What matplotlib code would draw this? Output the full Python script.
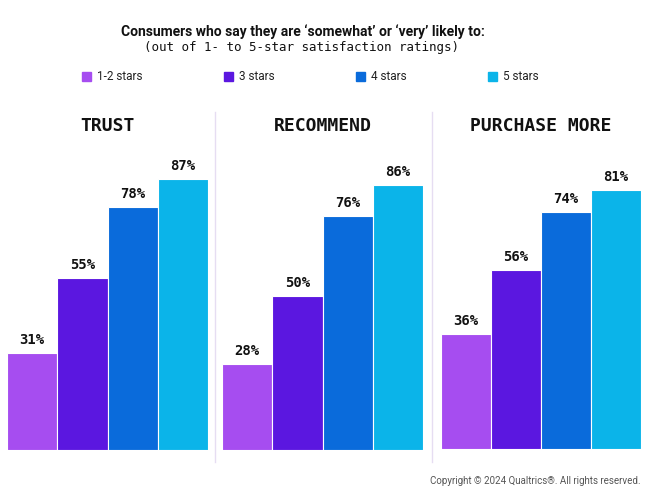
import matplotlib.pyplot as plt
from matplotlib.lines import Line2D
from matplotlib.patches import Rectangle

W, H = 650, 488

groups = ["TRUST", "RECOMMEND", "PURCHASE MORE"]
series = ["1-2 stars", "3 stars", "4 stars", "5 stars"]
values = [
    [31, 55, 78, 87],
    [28, 50, 76, 86],
    [36, 56, 74, 81],
]
colors = ["#A64DF0", "#5B17E0", "#0A6BDB", "#0BB4E9"]

# panel layout in pixels: x0, x1, baseline, y of 100%
panel_px = [(7, 208, 450, 138), (222, 423, 450, 142), (441, 641, 448.5, 129.5)]

fig = plt.figure(figsize=(W / 100, H / 100), dpi=100)


def fx(px):
    return px / W


def fy(py):
    return 1 - py / H


for (x0, x1, base, top), name, vals in zip(panel_px, groups, values):
    ax = fig.add_axes([fx(x0), fy(base), fx(x1 - x0), (base - top) / H])
    ax.bar(range(4), vals, width=1.0, color=colors, edgecolor="white", linewidth=0.8)
    for i, v in enumerate(vals):
        ax.annotate(f"{v}%", (i, v), xytext=(0, 13), textcoords="offset pixels",
                    ha="center", va="center", fontsize=10, fontweight="bold",
                    family="DejaVu Sans Mono", color="#111111")
    ax.set_xlim(-0.5, 3.5)
    ax.set_ylim(0, 100)
    ax.axis("off")
    fig.text(fx((x0 + x1) / 2), fy(126), name, ha="center", va="center",
             fontsize=13, fontweight="bold", family="DejaVu Sans Mono", color="#111111")

# separators
for sx in (215, 432):
    fig.add_artist(Line2D([fx(sx), fx(sx)], [fy(112), fy(462)], color="#E6DDF2", lw=1.0))

# title
fig.text(fx(303), fy(32), "Consumers who say they are \u2018somewhat\u2019 or \u2018very\u2019 likely to:",
         ha="center", va="center", fontsize=10, fontweight="bold", family="Roboto",
         color="#111111")
fig.text(fx(302), fy(48), "(out of 1- to 5-star satisfaction ratings)", ha="center", va="center",
         fontsize=9, family="DejaVu Sans Mono", color="#111111")

# legend
leg_px = [82, 224, 356, 488]
for lx, lab, c in zip(leg_px, series, colors):
    fig.add_artist(Rectangle((fx(lx), fy(81)), fx(9), 9 / H, color=c))
    fig.text(fx(lx + 15), fy(76), lab, ha="left", va="center", fontsize=8.5,
             family="Roboto", color="#222222")

fig.text(fx(641), fy(481), "Copyright \u00a9 2024 Qualtrics\u00ae. All rights reserved.",
         ha="right", va="center", fontsize=7, family="Roboto", color="#555555")

fig.savefig("out.png", dpi=100)
